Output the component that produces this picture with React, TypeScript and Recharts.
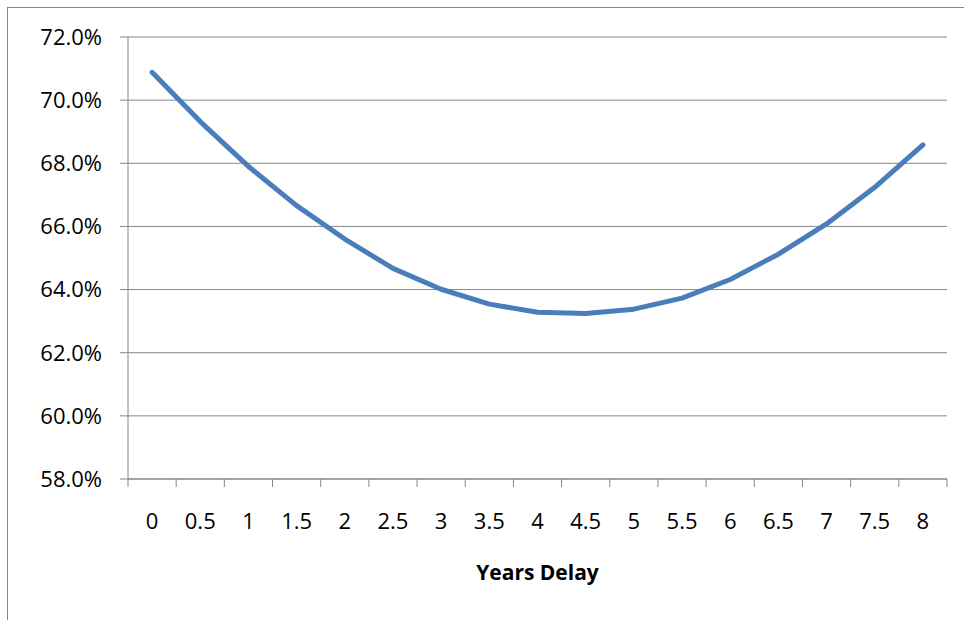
import { LineChart, Line, XAxis, YAxis, CartesianGrid } from 'recharts';

const delays = ['0', '0.5', '1', '1.5', '2', '2.5', '3', '3.5', '4', '4.5', '5', '5.5', '6', '6.5', '7', '7.5', '8'];
const rates = [70.88, 69.32, 67.9, 66.66, 65.6, 64.67, 64.01, 63.54, 63.28, 63.24, 63.38, 63.73, 64.32, 65.12, 66.08, 67.24, 68.58];
const yTicks = [58, 60, 62, 64, 66, 68, 70, 72];

const data = delays.map((d, i) => ({ delay: d, rate: rates[i] }));

const GRID = '#868686';
const FONT = '"Open Sans", sans-serif';
const TICK_SIZE = 8;
const TICK_MARGIN = 26;

// Excel-style category ticks: marks sit between categories, labels in the middle
const CategoryTick = (props: any) => {
    const { x, y, payload, index, visibleTicksCount } = props;
    const off = payload.offset || 0;
    const axisY = y - TICK_MARGIN - TICK_SIZE;
    return (
        <g>
            <line x1={x - off} x2={x - off} y1={axisY} y2={axisY + TICK_SIZE} stroke={GRID} strokeWidth={1} />
            {index === visibleTicksCount - 1 && (
                <line x1={x + off} x2={x + off} y1={axisY} y2={axisY + TICK_SIZE} stroke={GRID} strokeWidth={1} />
            )}
            <text x={x} y={y} dy="0.71em" textAnchor="middle" fontSize={22} fontFamily={FONT} fill="#000">
                {payload.value}
            </text>
        </g>
    );
};

export default function App() {
    return (
        <div style={{ position: 'fixed', left: 0, top: 0, width: 964, height: 620, background: '#fff', overflow: 'hidden' }}>
            <div
                style={{
                    position: 'absolute',
                    left: 7,
                    top: 7,
                    width: 1000,
                    height: 700,
                    borderLeft: `1px solid ${GRID}`,
                    borderTop: `1px solid ${GRID}`
                }}
            />
            <div style={{ position: 'absolute', left: 0, top: 0 }}>
                <LineChart width={964} height={620} data={data} margin={{ top: 37, right: 17, left: 0, bottom: 0 }}>
                    <CartesianGrid horizontal vertical={false} stroke={GRID} strokeWidth={1} />
                    <XAxis
                        dataKey="delay"
                        type="category"
                        scale="band"
                        interval={0}
                        height={141}
                        tickLine={false}
                        tickSize={TICK_SIZE}
                        tickMargin={TICK_MARGIN}
                        axisLine={{ stroke: GRID, strokeWidth: 1 }}
                        tick={<CategoryTick />}
                        label={{
                            value: 'Years Delay',
                            position: 'insideBottom',
                            offset: 40,
                            fontSize: 21,
                            fontWeight: 'bold',
                            fontFamily: FONT,
                            fill: '#000'
                        }}
                    />
                    <YAxis
                        type="number"
                        domain={[58, 72]}
                        ticks={yTicks}
                        width={128}
                        tickSize={TICK_SIZE}
                        tickMargin={18}
                        axisLine={{ stroke: GRID, strokeWidth: 1 }}
                        tickLine={{ stroke: GRID, strokeWidth: 1 }}
                        tick={{ fontSize: 22, fontFamily: FONT, fill: '#000' }}
                        tickFormatter={(v: number) => `${v.toFixed(1)}%`}
                    />
                    <Line
                        type="linear"
                        dataKey="rate"
                        stroke="#4A7EBB"
                        strokeWidth={5}
                        strokeLinecap="round"
                        strokeLinejoin="round"
                        dot={false}
                        isAnimationActive={false}
                    />
                </LineChart>
            </div>
        </div>
    );
}
